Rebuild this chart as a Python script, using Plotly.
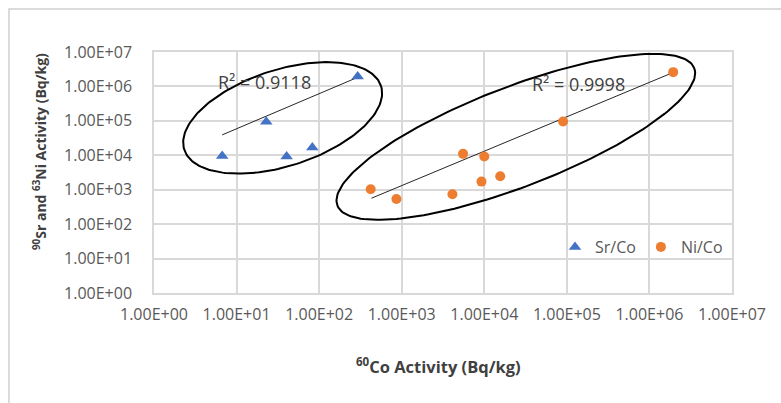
import numpy as np
import plotly.graph_objects as go

# ---------------- data ----------------
sr_x = [6.7, 22.9, 40.4, 82.7, 293]
sr_y = [9.6e3, 9.4e4, 9.2e3, 1.67e4, 1.94e6]
ni_x = [421, 863, 4115, 5535, 1.0e4, 9250, 1.56e4, 9.0e4, 1.94e6]
ni_y = [1035, 540, 740, 1.1e4, 9170, 1720, 2470, 9.55e4, 2.6e6]
sr_trend_x = [6.7, 290]
sr_trend_y = [3.92e4, 1.82e6]
ni_trend_x = [430, 1.86e6]
ni_trend_y = [566, 2.44e6]
sr_r2 = "R² = 0.9118"
ni_r2 = "R² = 0.9998"
tick_vals = [1, 1e1, 1e2, 1e3, 1e4, 1e5, 1e6, 1e7]
tick_text = ["1.00E+00", "1.00E+01", "1.00E+02", "1.00E+03",
             "1.00E+04", "1.00E+05", "1.00E+06", "1.00E+07"]

# ---------------- layout geometry ----------------
FW, FH = 781, 403
L, R, T, B = 154, 49, 52, 110
PW, PH = FW - L - R, FH - T - B
PBOT = FH - B
DEC = 7
ppdx, ppdy = PW / DEC, PH / DEC

def px(x):
    return (x - L) / PW

def py(y):
    return (PBOT - y) / PH

def ellipse(cx_log, cy_log, a, b, theta_deg, n=200):
    th = np.radians(theta_deg)
    t = np.linspace(0, 2 * np.pi, n)
    dx = a * np.cos(t) * np.cos(th) - b * np.sin(t) * np.sin(th)
    dy = a * np.cos(t) * np.sin(th) + b * np.sin(t) * np.cos(th)
    return 10 ** (cx_log + dx / ppdx), 10 ** (cy_log + dy / ppdy)

FONT = "'Open Sans', Lato, sans-serif"
GRID = "#d9d9d9"

fig = go.Figure()

# trend lines
fig.add_trace(go.Scatter(x=sr_trend_x, y=sr_trend_y, mode="lines",
                         line=dict(color="#262626", width=1),
                         showlegend=False, hoverinfo="skip"))
fig.add_trace(go.Scatter(x=ni_trend_x, y=ni_trend_y, mode="lines",
                         line=dict(color="#262626", width=1),
                         showlegend=False, hoverinfo="skip"))

# ellipses
ex, ey = ellipse(1.558, 5.087, 103.4, 48.1, 17.95)
fig.add_trace(go.Scatter(x=ex, y=ey, mode="lines", line=dict(color="black", width=2),
                         showlegend=False, hoverinfo="skip"))
ex, ey = ellipse(4.382, 4.535, 191.2, 49.9, 21.05)
fig.add_trace(go.Scatter(x=ex, y=ey, mode="lines", line=dict(color="black", width=2),
                         showlegend=False, hoverinfo="skip"))

# data series
fig.add_trace(go.Scatter(x=sr_x, y=sr_y, mode="markers", name="Sr/Co",
                         marker=dict(symbol="triangle-up", size=11, color="#4472C4")))
fig.add_trace(go.Scatter(x=ni_x, y=ni_y, mode="markers", name="Ni/Co",
                         marker=dict(symbol="circle", size=10, color="#ED7D31")))

axis_common = dict(type="log", range=[0, DEC], tickvals=tick_vals, ticktext=tick_text,
                   showgrid=True, gridcolor=GRID, gridwidth=1.5,
                   showline=True, mirror=True, linecolor=GRID, linewidth=1.5,
                   zeroline=False, ticks="",
                   tickfont=dict(family=FONT, size=16, color="#595959"))

fig.update_layout(
    width=FW, height=FH,
    margin=dict(l=L, r=R, t=T, b=B),
    paper_bgcolor="white", plot_bgcolor="white",
    xaxis=dict(**axis_common, ticklabelstandoff=6),
    yaxis=dict(**axis_common, ticklabelstandoff=17),
    showlegend=True,
    legend=dict(orientation="h", x=px(555), y=py(247), xanchor="left", yanchor="middle",
                bgcolor="rgba(0,0,0,0)", font=dict(family=FONT, size=16, color="#595959"),
                itemwidth=30, tracegroupgap=0),
)

annotations = [
    dict(text=sr_r2, x=px(264), y=py(82)),
    dict(text=ni_r2, x=px(578), y=py(84)),
]
for a in annotations:
    fig.add_annotation(xref="paper", yref="paper", showarrow=False,
                       xanchor="center", yanchor="middle",
                       font=dict(family=FONT, size=18, color="#404040"), **a)

fig.add_annotation(xref="paper", yref="paper", showarrow=False,
                   x=px(438), y=py(366), xanchor="center", yanchor="middle",
                   text="<b><sup>60</sup>Co Activity (Bq/kg)</b>",
                   font=dict(family=FONT, size=16.5, color="#404040"))
fig.add_annotation(xref="paper", yref="paper", showarrow=False,
                   x=px(40), y=py(152), xanchor="center", yanchor="middle",
                   textangle=-90,
                   text="<b><sup>90</sup>Sr and <sup>63</sup>Ni Activity (Bq/kg)</b>",
                   font=dict(family=FONT, size=14, color="#404040"))

# outer frame of the chart
fig.add_shape(type="rect", xref="paper", yref="paper",
              x0=px(9), y0=py(420), x1=px(800), y1=py(9),
              line=dict(color="#d0d0d0", width=1.5), fillcolor="rgba(0,0,0,0)")

fig.write_html("out.html")
